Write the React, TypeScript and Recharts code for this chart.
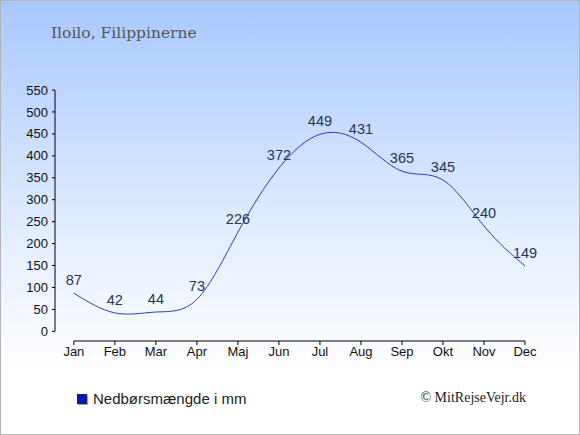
import { LineChart, Line, XAxis, YAxis, Legend, LabelList, ReferenceLine } from 'recharts'

const months = ['Jan', 'Feb', 'Mar', 'Apr', 'Maj', 'Jun', 'Jul', 'Aug', 'Sep', 'Okt', 'Nov', 'Dec']
const rain = [87, 42, 44, 73, 226, 372, 449, 431, 365, 345, 240, 149]
const yTicks = [0, 50, 100, 150, 200, 250, 300, 350, 400, 450, 500, 550]

const LINE = '#2b3bc4', SQ = '#0a1aa8'
const X_MIN = -0.46, Y_MIN = -22

const chartData = months.map((m, i) => ({ i, name: m, v: rain[i] }))
const xTicks = months.map((_, i) => i)

const sans = '"Liberation Sans", Arial, sans-serif'

function LegendBox() {
  return (
    <div style={{ display: 'flex', alignItems: 'center', fontFamily: sans, fontSize: 15, color: '#222' }}>
      <span style={{ width: 10, height: 10, background: SQ, boxShadow: '1px 1px 0 #9aa', marginRight: 6, display: 'inline-block' }} />
      Nedbørsmængde i mm
    </div>
  )
}

export default function App() {
  return (
    <div style={{ width: 580, height: 435, boxSizing: 'border-box', border: '1px solid #b4b4b4', position: 'relative',
      background: 'linear-gradient(to bottom, #a8c8ff 0%, #e4eeff 55%, #ffffff 85%)' }}>
      <style>{'body{margin:0}'}</style>
      <div style={{ position: 'absolute', left: 50, top: 24, fontFamily: '"DejaVu Serif", serif', fontSize: 15.5, lineHeight: '16px', color: '#555' }}>
        Iloilo, Filippinerne
      </div>
      <div style={{ position: 'absolute', right: 53, top: 389, fontFamily: '"Liberation Serif", "Times New Roman", serif', fontSize: 14, color: '#222' }}>
        © MitRejseVejr.dk
      </div>
      <LineChart width={578} height={433} data={chartData} margin={{ top: 89, right: 54, left: 0, bottom: 63 }}>
        <XAxis dataKey="i" type="number" domain={[X_MIN, 11]} ticks={xTicks} allowDataOverflow
          tickFormatter={(i: number) => months[i]} axisLine={false} tickLine={{ stroke: '#000' }}
          tickSize={4} tickMargin={2} height={30} interval={0}
          tick={{ fontSize: 13, fill: '#111', fontFamily: sans }} />
        <YAxis type="number" domain={[Y_MIN, 550]} ticks={yTicks} allowDataOverflow width={54}
          axisLine={false} tickLine={{ stroke: '#000' }} tickSize={3} tickMargin={4} interval={0}
          tick={{ fontSize: 13, fill: '#111', fontFamily: sans }} />
        <ReferenceLine segment={[{ x: X_MIN, y: 0 }, { x: X_MIN, y: 550 }]} stroke="#000" strokeWidth={1} />
        <ReferenceLine segment={[{ x: 0, y: Y_MIN }, { x: 11, y: Y_MIN }]} stroke="#000" strokeWidth={1} />
        <Legend verticalAlign="middle" align="center" content={() => <LegendBox />}
          wrapperStyle={{ top: 389, left: 76, width: 250, height: 20 }} />
        <Line type="natural" dataKey="v" stroke={LINE} strokeWidth={1} dot={false} isAnimationActive={false}>
          <LabelList dataKey="v" position="top" offset={8}
            style={{ fontSize: 14.5, fill: '#243452', fontFamily: sans }} />
        </Line>
      </LineChart>
    </div>
  )
}
